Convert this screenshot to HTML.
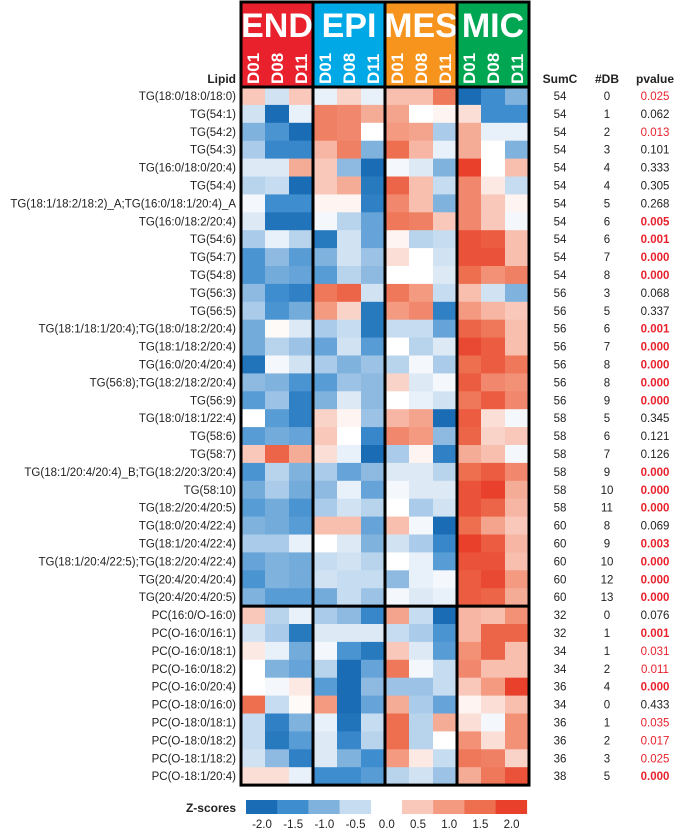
<!DOCTYPE html>
<html><head><meta charset="utf-8">
<style>
html,body{margin:0;padding:0;background:#fff;}
svg{display:block;font-family:"Liberation Sans",sans-serif;}
</style></head>
<body>
<svg id="chart" width="674" height="831" viewBox="0 0 674 831" xmlns="http://www.w3.org/2000/svg"></svg>
<script>
const groups = ["END","EPI","MES","MIC"];
const groupColors = ["#e8212c","#00a9e6","#f7941d","#00a651"];
const days = ["D01","D08","D11"];
const lipids = ["TG(18:0/18:0/18:0)","TG(54:1)","TG(54:2)","TG(54:3)","TG(16:0/18:0/20:4)","TG(54:4)","TG(18:1/18:2/18:2)_A;TG(16:0/18:1/20:4)_A","TG(16:0/18:2/20:4)","TG(54:6)","TG(54:7)","TG(54:8)","TG(56:3)","TG(56:5)","TG(18:1/18:1/20:4);TG(18:0/18:2/20:4)","TG(18:1/18:2/20:4)","TG(16:0/20:4/20:4)","TG(56:8);TG(18:2/18:2/20:4)","TG(56:9)","TG(18:0/18:1/22:4)","TG(58:6)","TG(58:7)","TG(18:1/20:4/20:4)_B;TG(18:2/20:3/20:4)","TG(58:10)","TG(18:2/20:4/20:5)","TG(18:0/20:4/22:4)","TG(18:1/20:4/22:4)","TG(18:1/20:4/22:5);TG(18:2/20:4/22:4)","TG(20:4/20:4/20:4)","TG(20:4/20:4/20:5)","PC(16:0/O-16:0)","PC(O-16:0/16:1)","PC(O-16:0/18:1)","PC(O-16:0/18:2)","PC(O-16:0/20:4)","PC(O-18:0/16:0)","PC(O-18:0/18:1)","PC(O-18:0/18:2)","PC(O-18:1/18:2)","PC(O-18:1/20:4)"];
const zscores = [
[0.5,-0.4,0.5,-0.2,0.4,-0.2,0.6,0.6,1.4,-2,-1.5,-1.0],
[-0.4,-2,-0.2,1.3,1.2,0.8,0.9,0.0,0.1,0.3,-1.5,-1.5],
[-1.0,-1.4,-2.0,1.3,1.2,0.0,1.0,0.9,-0.7,0.8,-0.2,-0.2],
[-0.7,-1.6,-1.6,0.7,1.3,-1.0,1.5,0.7,-0.2,0.8,0.0,-1.0],
[-0.3,-0.3,0.8,0.5,-0.9,-2,-0.1,-0.3,-1.0,2.0,0.0,0.6],
[-0.6,-0.5,-2,0.5,0.8,-1.8,1.6,0.6,-0.5,1.2,0.2,-0.5],
[-0.1,-1.5,-1.5,0.1,0.1,-1.7,1.2,0.6,-1.0,1.2,0.5,0.1],
[-0.3,-1.9,-1.9,-0.1,-0.6,-1.2,1.4,1.3,0.5,1.2,0.5,-0.1],
[-0.7,-0.2,-0.6,-1.8,-0.4,-1.2,0.1,-0.6,-0.5,1.8,1.7,0.6],
[-1.4,-0.9,-1.3,-1.0,-0.4,-0.8,0.3,0.0,-0.4,1.8,1.8,0.6],
[-1.4,-1.1,-1.2,-1.3,-0.6,-0.9,0.0,0.0,-0.3,1.5,1.1,1.3],
[-0.9,-1.5,-1.7,1.4,1.6,-0.4,1.4,1.0,-0.5,0.6,-0.4,-1.0],
[-0.7,-1.4,-1.1,1.0,0.4,-1.8,1.0,1.2,-1.7,1.0,0.7,0.5],
[-1.1,0.05,-0.3,-0.7,-0.5,-1.8,-0.5,-0.5,-1.2,1.6,1.4,0.6],
[-1.1,-0.6,-0.8,-1.2,-0.4,-1.3,0.0,-0.6,-0.3,1.9,1.7,0.6],
[-1.9,-0.1,-0.4,-0.7,-1.0,-0.8,-0.6,-0.1,-0.7,1.5,1.7,1.4],
[-0.9,-1.0,-1.4,-1.3,-0.8,-0.9,0.4,-0.3,-0.1,1.7,1.2,1.1],
[-1.3,-0.8,-1.7,-1.0,-0.3,-0.9,0.0,-0.2,-0.4,1.4,1.7,1.2],
[0.0,-1.3,-1.7,0.4,0.1,-0.8,0.7,0.9,-2,1.7,0.3,-0.1],
[-1.3,-1.1,-1.2,0.5,0.0,-1.6,1.2,1.0,-0.9,1.6,0.4,0.5],
[0.5,1.6,0.8,0.3,-0.2,-2,-0.7,0.1,-1.7,0.8,0.6,-0.1],
[-1.4,-0.6,-1.0,-0.7,-1.2,-0.9,-0.3,-0.3,-0.6,1.5,1.7,1.2],
[-1.1,-0.7,-1.1,-0.9,-0.2,-1.2,-0.1,-0.3,-0.3,1.8,2.0,0.8],
[-1.3,-1.1,-1.4,-0.7,-0.4,-0.6,0.0,-0.7,-0.4,1.8,1.6,0.7],
[-1.0,-1.1,-1.3,0.6,0.6,-1.2,0.6,-0.1,-2,1.5,0.9,0.5],
[-0.7,-0.7,-0.2,0.0,-0.3,-1.0,-0.4,-0.7,-1.6,2.0,1.7,0.7],
[-1.2,-1.0,-1.1,-0.5,-0.4,-0.6,0.0,-0.2,-1.3,1.8,1.8,0.6],
[-1.4,-1.0,-1.1,-0.4,-0.5,-0.5,-0.9,-0.2,-0.1,1.7,1.9,1.0],
[-1.0,-1.3,-1.3,-1.1,-0.5,-0.8,-0.1,-0.3,-0.2,1.7,1.6,0.8],
[0.5,-0.6,-0.2,-0.7,-0.9,-1.6,0.9,-0.5,-2,0.7,0.6,1.1],
[-0.4,-0.7,-1.8,-0.3,-0.3,-0.3,-0.5,-0.7,-1.4,0.7,1.6,1.6],
[0.2,-0.2,-1.1,-0.1,-1.4,-1.8,0.5,-0.3,-1.3,1.1,1.6,0.6],
[0.0,-1.0,-1.2,-0.6,-2.0,-1.2,1.4,-0.1,-0.5,1.2,0.6,0.6],
[0.0,-0.1,0.2,-1.3,-2.0,-0.9,-0.8,-0.8,-0.5,0.5,1.0,2.0],
[1.5,-0.5,0.05,1.0,-2.0,-1.2,0.8,-0.7,-1.2,0.1,0.3,0.6],
[-0.5,-1.7,-1.0,-0.2,-1.9,-0.5,1.5,-0.6,0.8,0.3,-0.1,1.1],
[-0.5,-1.8,-1.3,-0.3,-1.6,-0.6,1.5,-0.6,0.0,1.1,0.3,1.1],
[-0.4,-0.9,-1.7,-0.3,-1.0,-1.5,1.0,0.2,-0.5,1.4,1.3,0.4],
[0.3,0.3,-0.2,-1.5,-1.5,-1.3,-0.6,-0.4,-0.8,0.8,1.4,1.8]
];
const sumC = [54,54,54,54,54,54,54,54,54,54,54,56,56,56,56,56,56,56,58,58,58,58,58,58,60,60,60,60,60,32,32,34,34,36,34,36,36,36,38];
const nDB = [0,1,2,3,4,4,5,6,6,7,8,3,5,6,7,8,8,9,5,6,7,9,10,11,8,9,10,12,13,0,1,1,2,4,0,1,2,3,5];
const pvalues = ["0.025","0.062","0.013","0.101","0.333","0.305","0.268","0.005","0.001","0.000","0.000","0.068","0.337","0.001","0.000","0.000","0.000","0.000","0.345","0.121","0.126","0.000","0.000","0.000","0.069","0.003","0.000","0.000","0.000","0.076","0.001","0.031","0.011","0.000","0.433","0.035","0.017","0.025","0.000"];
const legendBins = [-2.0,-1.5,-1.0,-0.5,0.5,1.0,1.5,2.0];
const legendTicks = ["-2.0","-1.5","-1.0","-0.5","0.0","0.5","1.0","1.5","2.0"];

const NS="http://www.w3.org/2000/svg";
const svg=document.getElementById('chart');
function mk(tag,attrs,parent){const e=document.createElementNS(NS,tag);for(const k in attrs)e.setAttribute(k,attrs[k]);(parent||svg).appendChild(e);return e;}
const X0=241, X1=529, CW=(X1-X0)/12, TOP=87, RH=17.9, HTOP=2;
const xCol=i=>X0+i*CW;
const yRow=r=>TOP+r*RH;
const blueStops=[[0,[255,255,255]],[0.5,[198,220,240]],[1.0,[128,178,222]],[1.5,[62,141,207]],[2.0,[26,109,181]]];
const redStops=[[0,[255,255,255]],[0.5,[249,200,186]],[1.0,[243,154,128]],[1.5,[238,110,80]],[2.0,[232,64,42]]];
function color(v){const s=v<0?blueStops:redStops;let a=Math.min(Math.abs(v),2);for(let i=1;i<s.length;i++){if(a<=s[i][0]){const t=(a-s[i-1][0])/(s[i][0]-s[i-1][0]);const c=s[i-1][1].map((q,j)=>Math.round(q+(s[i][1][j]-q)*t));return `rgb(${c})`;}}return `rgb(${s[4][1]})`;}

// header
groups.forEach((g,gi)=>{
  const gx=xCol(gi*3);
  const r=mk('rect',{x:gx,y:HTOP,width:CW*3,height:TOP-HTOP,fill:groupColors[gi]});
  
  
  const t=mk('text',{x:gx+CW*1.5,y:37,'text-anchor':'middle','font-size':34,'font-weight':'bold',fill:'#fff'});
  t.textContent=g;
  
  
  days.forEach((d,di)=>{
    const cx=xCol(gi*3+di)+CW/2+6;
    const dt=mk('text',{x:cx,y:84,transform:`rotate(-90 ${cx} 84)`,'font-size':17,'font-weight':'bold',fill:'#fff'});
    dt.textContent=d;
    
    
  });
});
// column headers
[["Lipid",236,'end'],["SumC",560,'middle'],["#DB",607,'middle'],["pvalue",655,'middle']].forEach(h=>{
  const t=mk('text',{x:h[1],y:83,'text-anchor':h[2],'font-size':12,'font-weight':'bold',fill:'#222'});
  t.textContent=h[0];
  
  
});
// cells and rows
lipids.forEach((name,r)=>{
  zscores[r].forEach((v,c)=>{
    const cell=mk('rect',{x:xCol(c),y:yRow(r),width:CW+0.5,height:RH+0.5,fill:color(v)});
    
    
  });
  const cy=yRow(r)+RH/2+4;
  const lt=mk('text',{x:236,y:cy,'text-anchor':'end','font-size':11.5,fill:'#222'});
  lt.textContent=name;
  
  
  const s=mk('text',{x:560,y:cy,'text-anchor':'middle','font-size':11.5,fill:'#222'});
  s.textContent=sumC[r];
  
  
  const d=mk('text',{x:607,y:cy,'text-anchor':'middle','font-size':11.5,fill:'#222'});
  d.textContent=nDB[r];
  
  
  const pv=parseFloat(pvalues[r]);
  const p=mk('text',{x:655,y:cy,'text-anchor':'middle','font-size':11.5,fill:pv<0.05?'#e8212c':'#222','font-weight':pv<=0.005?'bold':'normal'});
  p.textContent=pvalues[r];
  
  
});
// borders
const bottom=yRow(lipids.length);
const frame=mk('rect',{x:X0,y:HTOP,width:X1-X0,height:bottom-HTOP,fill:'none',stroke:'#000','stroke-width':3});


[1,2,3].forEach(g=>{
  const l=mk('line',{x1:xCol(g*3),x2:xCol(g*3),y1:HTOP,y2:bottom,stroke:'#000','stroke-width':3});
  
  
});
[TOP,yRow(29)].forEach(y=>{
  const l=mk('line',{x1:X0,x2:X1,y1:y,y2:y,stroke:'#000','stroke-width':3});
  
  
});
// legend
const lz=mk('text',{x:236,y:812,'text-anchor':'end','font-size':12,'font-weight':'bold',fill:'#222'});
lz.textContent="Z-scores";


const LB=31.2;
legendBins.forEach((v,i)=>{
  const x=i<4?246+i*LB:402+(i-4)*LB;
  const b=mk('rect',{x:x,y:800,width:LB+0.3,height:14,fill:color(v)});
  
  
});
legendTicks.forEach((t,i)=>{
  const x=262+i*31.2;
  const tx=mk('text',{x:x,y:828,'text-anchor':'middle','font-size':11.5,fill:'#222'});
  tx.textContent=t;
  
  
});
</script>
</body></html>
